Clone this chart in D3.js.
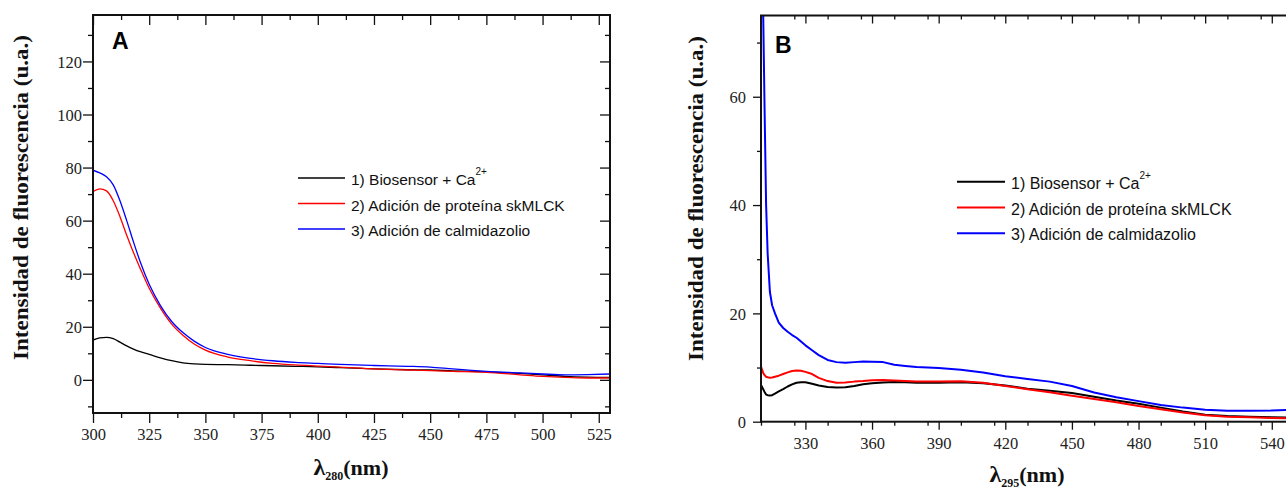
<!DOCTYPE html>
<html lang="es">
<head>
<meta charset="UTF-8">
<title>Espectros de fluorescencia</title>
<script src="https://d3js.org/d3.v7.min.js"></script>
<style>
  body { margin: 0; background: #fff; }
  .tick line { stroke: #111; stroke-width: 1.3px; }
  .frame { fill: none; stroke: #111; stroke-width: 2px; }
  .ytitle, .xtitle { font-family: "Liberation Serif", "Times New Roman", serif; font-weight: bold; fill: #111; }
  .legend text { font-family: "Liberation Sans", Arial, sans-serif; font-size: 15px; fill: #111; }
  .panel-label { font-family: "Liberation Sans", Arial, sans-serif; font-weight: bold; font-size: 23px; fill: #000; }
</style>
</head>
<body>
<svg width="1286" height="491"></svg>
<script>
// series names (legend)
const seriesNames = ["1) Biosensor + Ca", "2) Adición de proteína skMLCK", "3) Adición de calmidazolio"];
const seriesColors = ["#000000", "#ff0000", "#0000ff"];

// Panel A: excitation 280 nm
const waveA = [300, 303, 306, 309, 312, 315, 318, 321, 325, 330, 335, 340, 345, 350, 360, 370, 380, 390, 400, 410, 425, 440, 450, 460, 475, 490, 500, 510, 520, 530];
const biosensorA = [15, 15.8, 16, 15.5, 14.2, 12.8, 11.6, 10.6, 9.6, 8.3, 7.2, 6.4, 6.0, 5.8, 5.7, 5.5, 5.3, 5.1, 4.9, 4.6, 4.1, 3.8, 3.7, 3.4, 3.0, 2.4, 1.9, 1.3, 1.0, 0.9];
const skmlckA = [71, 72, 71.2, 67.5, 61.5, 54.5, 48, 42, 34.5, 27, 21, 16.8, 13.5, 11.2, 8.6, 7.2, 6.2, 5.6, 5.2, 4.8, 4.1, 3.7, 3.5, 3.2, 2.8, 1.9, 1.3, 0.9, 0.7, 0.7];
const calmidazolioA = [79, 78, 76.5, 73.5, 67.5, 60, 52, 44.5, 36, 28, 22, 17.8, 14.6, 12.2, 9.6, 8.1, 7.2, 6.6, 6.2, 5.8, 5.4, 5.1, 4.8, 4.1, 3.2, 2.6, 2.2, 1.9, 2.0, 2.2];
const xTicksA = [300, 325, 350, 375, 400, 425, 450, 475, 500, 525];
const yTicksA = [0, 20, 40, 60, 80, 100, 120];

// Panel B: excitation 295 nm
const waveB = [310, 311, 311.6, 312.3, 313, 314, 315, 316.3, 318, 320, 322, 324, 326, 328, 330, 333, 336, 340, 344, 348, 352, 356, 360, 365, 370, 375, 380, 390, 400, 410, 420, 430, 440, 450, 460, 470, 480, 490, 500, 510, 520, 530, 540, 550];
const biosensorB = [6.8, 6.0, 5.5, 5.0, 4.9, 4.85, 4.9, 5.2, 5.6, 6.0, 6.5, 6.9, 7.2, 7.3, 7.3, 7.0, 6.7, 6.4, 6.3, 6.35, 6.6, 6.9, 7.1, 7.25, 7.35, 7.3, 7.2, 7.2, 7.3, 7.1, 6.7, 6.1, 5.7, 5.3, 4.6, 3.9, 3.3, 2.6, 1.9, 1.3, 1.05, 0.9, 0.8, 0.75];
const skmlckB = [10.2, 9.0, 8.6, 8.3, 8.2, 8.1, 8.15, 8.3, 8.5, 8.8, 9.1, 9.35, 9.45, 9.4, 9.2, 8.8, 8.1, 7.5, 7.2, 7.25, 7.4, 7.5, 7.65, 7.7, 7.6, 7.5, 7.4, 7.4, 7.45, 7.2, 6.6, 6.0, 5.45, 4.8, 4.2, 3.6, 2.9, 2.3, 1.7, 1.2, 0.9, 0.8, 0.7, 0.6];
const calmidazolioB = [120, 75, 58, 40, 31, 24, 21.5, 20, 18.3, 17.3, 16.6, 16.0, 15.5, 14.8, 14.1, 13.2, 12.3, 11.4, 11.0, 10.9, 11.0, 11.1, 11.05, 11.0, 10.5, 10.3, 10.1, 9.9, 9.6, 9.1, 8.4, 7.9, 7.4, 6.6, 5.4, 4.5, 3.8, 3.1, 2.6, 2.2, 2.0, 2.0, 2.05, 2.2];
const xTicksB = [330, 360, 390, 420, 450, 480, 510, 540];
const yTicksB = [0, 20, 40, 60];

const svg = d3.select("svg");
const serif = '"Liberation Serif", "Times New Roman", serif';

function drawPanel(p) {
    const x = d3.scaleLinear().domain(p.xDomain).range([p.left, p.right]);
    const y = d3.scaleLinear().domain(p.yDomain).range([p.bottom, p.top]);
    const g = svg.append("g");

    g.append("clipPath").attr("id", "clip-" + p.id)
        .append("rect")
        .attr("x", p.left).attr("y", p.top)
        .attr("width", p.right - p.left).attr("height", p.bottom - p.top);

    // minor ticks (no labels), all four sides
    const minorX = d3.range(p.xDomain[0], p.xDomain[1] + 0.01, p.xMinor).filter(v => !p.xTicks.includes(v));
    const minorY = d3.range(p.yMinorStart, p.yDomain[1], p.yMinor).filter(v => !p.yTicks.includes(v));

    const addAxis = (axis, tr) => {
        const a = g.append("g").attr("transform", tr).call(axis);
        a.select(".domain").remove();
        return a;
    };

    // bottom
    const bx = addAxis(d3.axisBottom(x).tickValues(p.xTicks).tickSize(p.major).tickSizeOuter(0).tickFormat(d3.format("d")),
        `translate(0,${p.bottom})`);
    bx.selectAll("text").attr("y", p.xLabelY).attr("dy", null);
    addAxis(d3.axisBottom(x).tickValues(minorX).tickSize(p.minor).tickFormat(""), `translate(0,${p.bottom})`);
    // top (inward)
    addAxis(d3.axisTop(x).tickValues(p.xTicks).tickSize(-p.major).tickFormat(""), `translate(0,${p.top})`);
    addAxis(d3.axisTop(x).tickValues(minorX).tickSize(-p.minor).tickFormat(""), `translate(0,${p.top})`);
    // left
    const ly = addAxis(d3.axisLeft(y).tickValues(p.yTicks).tickSize(p.major).tickFormat(d3.format("d")),
        `translate(${p.left},0)`);
    ly.selectAll("text").attr("x", -p.yLabelGap).attr("dy", "0.34em");
    addAxis(d3.axisLeft(y).tickValues(minorY).tickSize(p.minor).tickFormat(""), `translate(${p.left},0)`);
    // right (inward)
    addAxis(d3.axisRight(y).tickValues(p.yTicks).tickSize(-p.major).tickFormat(""), `translate(${p.right},0)`);
    addAxis(d3.axisRight(y).tickValues(minorY).tickSize(-p.minor).tickFormat(""), `translate(${p.right},0)`);

    // tick labels in Times-like serif
    g.selectAll(".tick text")
        .style("font-family", serif)
        .style("font-size", "16.5px")
        .style("fill", "#222");

    // curves
    const line = d3.line()
        .x((d, i) => x(p.wave[i]))
        .y(d => y(d))
        .curve(p.curve);
    g.append("g").attr("clip-path", `url(#clip-${p.id})`)
        .selectAll("path")
        .data(p.series)
        .join("path")
        .attr("fill", "none")
        .attr("stroke", (d, i) => seriesColors[i])
        .attr("stroke-width", p.lineWidth)
        .attr("stroke-linejoin", "round")
        .attr("d", line);

    g.append("rect").attr("class", "frame")
        .attr("x", p.left).attr("y", p.top)
        .attr("width", p.right - p.left).attr("height", p.bottom - p.top);

    // panel letter
    g.append("text").attr("class", "panel-label")
        .attr("x", p.letterPos[0]).attr("y", p.letterPos[1])
        .text(p.id);

    // legend
    const lg = g.append("g").attr("class", "legend")
        .attr("transform", `translate(${p.legendPos[0]},${p.legendPos[1]})`);
    const rows = lg.selectAll("g").data(seriesNames).join("g")
        .attr("transform", (d, i) => `translate(0,${i * p.legendStep})`);
    rows.append("line")
        .attr("x1", 0).attr("x2", p.legendLine)
        .attr("stroke", (d, i) => seriesColors[i])
        .attr("stroke-width", p.legendWidth);
    const t = rows.append("text")
        .attr("x", p.legendLine + 6).attr("y", 7)
        .style("font-size", p.legendFont + "px")
        .text(d => d);
    t.filter((d, i) => i === 0).append("tspan")
        .attr("dy", -10).style("font-size", "10px").text("2+");

    // axis titles
    svg.append("text").attr("class", "ytitle")
        .attr("transform", `translate(${p.yTitleX},${p.yTitleY}) rotate(-90)`)
        .attr("text-anchor", "middle")
        .attr("textLength", 325).attr("lengthAdjust", "spacingAndGlyphs")
        .style("font-size", "21px")
        .text("Intensidad de fluorescencia (u.a.)");

    const xt = svg.append("text").attr("class", "xtitle")
        .attr("x", p.xTitleX).attr("y", p.xTitleY)
        .attr("text-anchor", "middle")
        .style("font-size", "22px");
    xt.append("tspan").style("font-size", "24px").text("λ");
    xt.append("tspan").attr("dy", 5).style("font-size", "12px").text(p.exc);
    xt.append("tspan").attr("dy", -5).text("(nm)");
}

drawPanel({
    id: "A", exc: "280",
    left: 93, right: 610, top: 15, bottom: 413,
    xDomain: [300, 530], yDomain: [-12.5, 137.5],
    xTicks: xTicksA, yTicks: yTicksA, xMinor: 12.5, yMinor: 10, yMinorStart: -10,
    major: 10, minor: 5, xLabelY: 27, yLabelGap: 11,
    wave: waveA, series: [biosensorA, skmlckA, calmidazolioA],
    curve: d3.curveMonotoneX, lineWidth: 1.3,
    letterPos: [112, 49],
    legendPos: [298, 178], legendStep: 25.5, legendLine: 47, legendWidth: 1.3, legendFont: 15.5,
    yTitleX: 28, yTitleY: 197.5, xTitleX: 351, xTitleY: 475
});

drawPanel({
    id: "B", exc: "295",
    left: 761, right: 1294, top: 15.5, bottom: 421.7,
    xDomain: [310, 550], yDomain: [0, 75],
    xTicks: xTicksB, yTicks: yTicksB, xMinor: 15, yMinor: 10, yMinorStart: 10,
    major: 8, minor: 4, xLabelY: 27, yLabelGap: 15,
    wave: waveB, series: [biosensorB, skmlckB, calmidazolioB],
    curve: d3.curveLinear, lineWidth: 2,
    letterPos: [775, 52.5],
    legendPos: [957, 181.7], legendStep: 25.8, legendLine: 48, legendWidth: 2, legendFont: 16,
    yTitleX: 703, yTitleY: 198.5, xTitleX: 1027, xTitleY: 482
});
</script>
</body>
</html>
